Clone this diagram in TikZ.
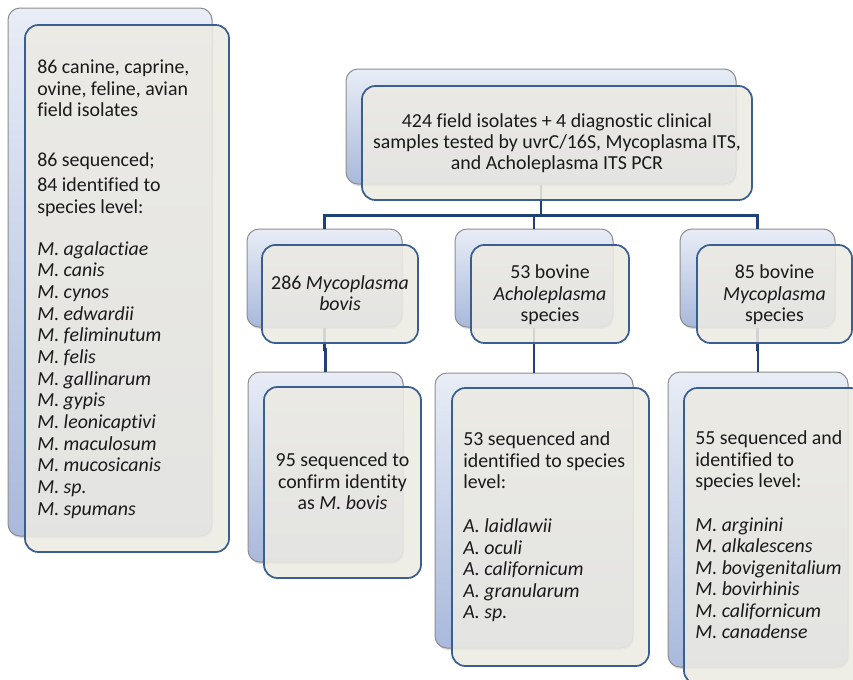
\documentclass[tikz,border=0pt]{standalone}
\usepackage{fontspec}
\setmainfont[Ligatures=NoCommon]{Carlito}
\usetikzlibrary{fit,shadows,calc}
\definecolor{frontfill}{HTML}{ECEAE3}
\definecolor{frontdraw}{HTML}{3A5F8E}
\definecolor{backtop}{HTML}{E8EDF6}
\definecolor{backbot}{HTML}{A9B9DC}
\definecolor{backdraw}{HTML}{8E8E8E}
\definecolor{conncol}{HTML}{1F4173}
\definecolor{txtcol}{HTML}{1A1A1A}
\begin{document}
\begin{tikzpicture}[x=0.75pt,y=-0.75pt,
  backbox/.style={draw=backdraw, line width=0.75pt, rounded corners=9pt,
    top color=backtop, bottom color=backbot, inner sep=0pt,
    drop shadow={shadow xshift=0.8pt, shadow yshift=-1.5pt, opacity=0.3}},
  frontbox/.style={draw=frontdraw, line width=1.3pt, rounded corners=10pt,
    fill=frontfill, fill opacity=0.88, inner sep=0pt},
  conn/.style={draw=conncol, line width=2.2pt},
  txt/.style={font=\fontsize{14.9}{18}\selectfont, inner sep=0pt, text=txtcol},
  lt/.style={txt, anchor=base west},
  ct/.style={txt, anchor=base}]
\useasboundingbox (0,0) rectangle (853,679);
\clip (0,0) rectangle (853,679);

% back boxes
\node[backbox, fit={(8,8) (212,536)}] (Lb) {};
\node[backbox, fit={(346,69) (736,184)}] (Tb) {};
\node[backbox, fit={(247,229) (402,327)}] (M1b) {};
\node[backbox, fit={(455,229) (613,327)}] (M2b) {};
\node[backbox, fit={(680,229) (835,327)}] (M3b) {};
\node[backbox, fit={(248,372) (403,562)}] (B1b) {};
\node[backbox, fit={(435,373) (633,648)}] (B2b) {};
\node[backbox, fit={(668,372) (848,667)}] (B3b) {};

% connectors
\coordinate (hub) at ($(Tb.south)+(0,31)$);
\draw[conn] (Tb.south) -- (hub) -| (M1b.north);
\draw[conn] (hub) -| (M2b.north);
\draw[conn] (hub) -| (M3b.north);
\draw[conn] (M1b.south) |- ($(M1b.south)!.5!(B1b.north)$) -| (B1b.north);
\draw[conn] (M2b.south) |- ($(M2b.south)!.5!(B2b.north)$) -| (B2b.north);
\draw[conn] (M3b.south) |- ($(M3b.south)!.5!(B3b.north)$) -| (B3b.north);

% front boxes
\node[frontbox, fit={(25,25) (229,552)}] (Lf) {};
\node[frontbox, fit={(362,86) (752,200)}] (Tf) {};
\node[frontbox, fit={(262,245) (418,343)}] (M1f) {};
\node[frontbox, fit={(471,245) (629,343)}] (M2f) {};
\node[frontbox, fit={(697,245) (852,343)}] (M3f) {};
\node[frontbox, fit={(264,387) (421,578)}] (B1f) {};
\node[frontbox, fit={(452,388) (649,666)}] (B2f) {};
\node[frontbox, fit={(684,388) (864,684)}] (B3f) {};

% left box text
\node[lt] (l1) at (37,73.5) {86 canine, caprine,};
\node[lt] (l2) at (37,95) {ovine, feline, avian};
\node[lt] (l3) at (37,116.5) {field isolates};
\node[lt] (l4) at (37,166) {86 sequenced;};
\node[lt] (l5) at (37,191.5) {84 identified to};
\node[lt] (l6) at (37,213) {species level:};
\node[lt] (l7) at (37,255) {\textit{M. agalactiae}};
\node[lt] (l8) at (37,276.7) {\textit{M. canis}};
\node[lt] (l9) at (37,298.3) {\textit{M. cynos}};
\node[lt] (l10) at (37,320) {\textit{M. edwardii}};
\node[lt] (l11) at (37,341.7) {\textit{M. feliminutum}};
\node[lt] (l12) at (37,363.3) {\textit{M. felis}};
\node[lt] (l13) at (37,385) {\textit{M. gallinarum}};
\node[lt] (l14) at (37,406.7) {\textit{M. gypis}};
\node[lt] (l15) at (37,428.3) {\textit{M. leonicaptivi}};
\node[lt] (l16) at (37,450) {\textit{M. maculosum}};
\node[lt] (l17) at (37,471.7) {\textit{M. mucosicanis}};
\node[lt] (l18) at (37,493.3) {\textit{M. sp.}};
\node[lt] (l19) at (37,515) {\textit{M. spumans}};

% top box text
\node[ct] (t1) at (557,127) {424 field isolates + 4 diagnostic clinical};
\node[ct] (t2) at (557,148) {samples tested by uvrC/16S, Mycoplasma ITS,};
\node[ct] (t3) at (557,169) {and Acholeplasma ITS PCR};

% middle level text
\node[ct] (m1a) at (340,289) {286 \textit{Mycoplasma}};
\node[ct] (m1b) at (340,310) {\textit{bovis}};
\node[ct] (m2a) at (550,278.5) {53 bovine};
\node[ct] (m2b) at (550,300) {\textit{Acholeplasma}};
\node[ct] (m2c) at (550,321.5) {species};
\node[ct] (m3a) at (774.5,278.5) {85 bovine};
\node[ct] (m3b) at (774.5,300) {\textit{Mycoplasma}};
\node[ct] (m3c) at (774.5,321.5) {species};

% bottom left text
\node[ct] (b1a) at (342.5,466.5) {95 sequenced to};
\node[ct] (b1b) at (342.5,488) {confirm identity};
\node[ct] (b1c) at (342.5,509.5) {as \textit{M. bovis}};

% bottom middle text
\node[lt] (b2a) at (463,445.5) {53 sequenced and};
\node[lt] (b2b) at (463,467) {identified to species};
\node[lt] (b2c) at (463,488.5) {level:};
\node[lt] (b2d) at (463,532.5) {\textit{A. laidlawii}};
\node[lt] (b2e) at (463,554) {\textit{A. oculi}};
\node[lt] (b2f) at (463,575.5) {\textit{A. californicum}};
\node[lt] (b2g) at (463,597) {\textit{A. granularum}};
\node[lt] (b2h) at (463,618.5) {\textit{A. sp.}};

% bottom right text
\node[lt] (b3a) at (695,444.5) {55 sequenced and};
\node[lt] (b3b) at (695,466) {identified to};
\node[lt] (b3c) at (695,487.5) {species level:};
\node[lt] (b3d) at (695,531) {\textit{M. arginini}};
\node[lt] (b3e) at (695,552.5) {\textit{M. alkalescens}};
\node[lt] (b3f) at (695,574) {\textit{M. bovigenitalium}};
\node[lt] (b3g) at (695,595.5) {\textit{M. bovirhinis}};
\node[lt] (b3h) at (695,617) {\textit{M. californicum}};
\node[lt] (b3i) at (695,638.5) {\textit{M. canadense}};
\end{tikzpicture}
\end{document}
